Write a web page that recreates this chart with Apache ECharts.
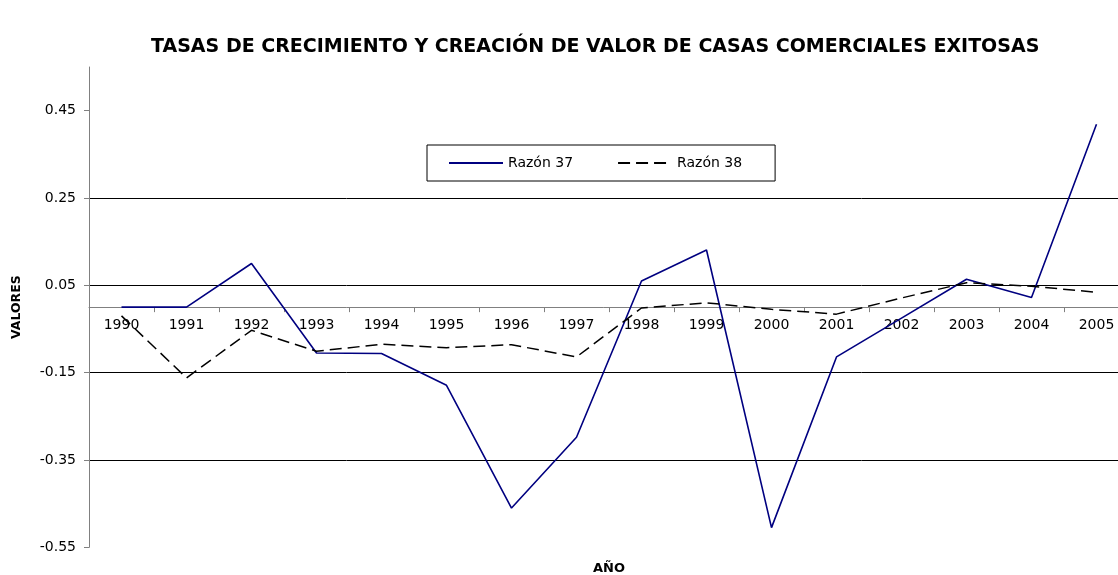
<!DOCTYPE html>
<html>
<head>
<meta charset="utf-8">
<script src="https://cdn.jsdelivr.net/npm/echarts@6/dist/echarts.min.js"></script>
<style>html,body{margin:0;padding:0;background:#fff}#c{width:1118px;height:575px}</style>
</head>
<body>
<div id="c"></div>
<script>
const years = ['1990','1991','1992','1993','1994','1995','1996','1997','1998','1999','2000','2001','2002','2003','2004','2005'];
const razon37 = [0.0, 0.0, 0.100, -0.105, -0.106, -0.179, -0.460, -0.298, 0.060, 0.131, -0.505, -0.114, -0.025, 0.064, 0.022, 0.419];
const razon38 = [-0.020, -0.162, -0.053, -0.101, -0.085, -0.093, -0.086, -0.114, -0.002, 0.010, -0.005, -0.016, 0.021, 0.056, 0.048, 0.034];
const yTicks = [-0.55, -0.35, -0.15, 0.05, 0.25, 0.45];

const font = '"DejaVu Sans", "Liberation Sans", Arial, sans-serif';
const chart = echarts.init(document.getElementById('c'), null, {renderer: 'canvas'});
chart.setOption({
  animation: false,
  backgroundColor: '#fff',
  title: {
    text: 'TASAS DE CRECIMIENTO Y CREACIÓN DE VALOR DE CASAS COMERCIALES EXITOSAS',
    left: 146, top: 33,
    textStyle: {fontFamily: font, fontSize: 19, fontWeight: 'bold', color: '#000'}
  },
  legend: {
    left: 427, top: 145,
    padding: [11, 33, 11, 21],
    itemGap: 44,
    itemWidth: 54, itemHeight: 14,
    borderColor: '#000', borderWidth: 1, backgroundColor: '#fff',
    itemStyle: {color: 'rgba(0,0,0,0)', borderColor: 'rgba(0,0,0,0)', borderWidth: 0},
    textStyle: {fontFamily: font, fontSize: 14, color: '#000'},
    data: ['Razón 37', 'Razón 38']
  },
  grid: {left: 89, top: 67, height: 480.3, right: -11, containLabel: false, outerBoundsMode: 'none'},
  xAxis: {
    type: 'category', data: years, boundaryGap: true,
    name: 'AÑO', nameLocation: 'middle', nameGap: 15,
    nameTextStyle: {fontFamily: font, fontSize: 13, fontWeight: 'bold', color: '#000'},
    axisLine: {onZero: true, lineStyle: {color: '#808080', width: 1}},
    axisTick: {show: true, inside: false, length: 5, lineStyle: {color: '#808080'}},
    axisLabel: {fontFamily: font, fontSize: 14, color: '#000', margin: -229, interval: 0},
    splitLine: {show: false}
  },
  yAxis: {
    type: 'value', min: -0.55, max: 0.55, interval: 0.2,
    name: 'VALORES', nameLocation: 'middle', nameGap: 66, nameRotate: 90,
    nameTextStyle: {fontFamily: font, fontSize: 12.5, fontWeight: 'bold', color: '#000'},
    axisLine: {show: true, lineStyle: {color: '#808080', width: 1}},
    axisTick: {show: true, length: 5, lineStyle: {color: '#808080'}, customValues: yTicks},
    axisLabel: {
      fontFamily: font, fontSize: 14, color: '#000', margin: 13,
      customValues: yTicks,
      formatter: v => String(Math.round(v * 100) / 100)
    },
    splitLine: {show: true, showMinLine: false, showMaxLine: false, lineStyle: {color: '#000', width: 1}}
  },
  series: [
    {
      name: 'Razón 37', type: 'line', data: razon37, symbol: 'none', clip: false,
      lineStyle: {color: '#000080', width: 1.6}, itemStyle: {color: '#000080'}
    },
    {
      name: 'Razón 38', type: 'line', data: razon38, symbol: 'none', clip: false,
      lineStyle: {color: '#000', width: 1.5, type: [12, 6]}, itemStyle: {color: '#000'}
    }
  ]
});
</script>
</body>
</html>
